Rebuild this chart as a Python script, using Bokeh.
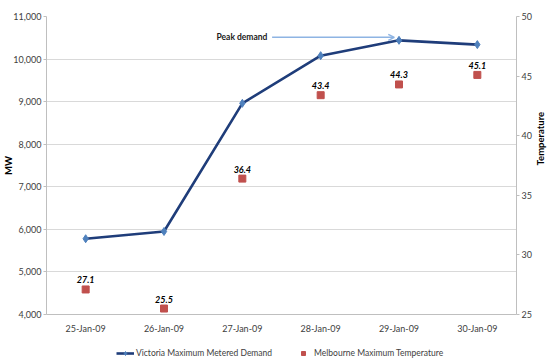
import math
from bokeh.plotting import figure
from bokeh.layouts import column
from bokeh.models import (ColumnDataSource, Range1d, FactorRange, LinearAxis, Legend, LegendItem,
                          NumeralTickFormatter, FixedTicker, Label, Arrow, OpenHead)
from bokeh.core.properties import value
from bokeh.embed import file_html
from bokeh.resources import INLINE

dates = ["25-Jan-09", "26-Jan-09", "27-Jan-09", "28-Jan-09", "29-Jan-09", "30-Jan-09"]
demand_mw = [5780, 5950, 8960, 10080, 10440, 10340]
temperature = [27.1, 25.5, 36.4, 43.4, 44.3, 45.1]
mw_ticks = [4000, 5000, 6000, 7000, 8000, 9000, 10000, 11000]
temp_ticks = [25, 30, 35, 40, 45, 50]
series_names = ["Victoria Maximum Metered Demand", "Melbourne Maximum Temperature"]

FONT = "Lato"
TICK_COLOR = "#404040"
AX_COLOR = "#BFBFBF"
LINE_COLOR = "#1F3D7A"
DIA_COLOR = "#4F81BD"
SQ_COLOR = "#C0504D"

src = ColumnDataSource(dict(
    date=dates, mw=demand_mw, temp=temperature,
    tlabel=["%.1f" % t for t in temperature],
))

p = figure(x_range=FactorRange(*dates), y_range=Range1d(4000, 11000),
           frame_width=470, frame_height=298, output_backend="svg", toolbar_location=None,
           min_border_left=44, min_border_right=34, min_border_top=16, min_border_bottom=28)
p.extra_y_ranges = {"temp": Range1d(25, 50)}
p.background_fill_color = "white"
p.border_fill_color = "white"
p.outline_line_color = None

# axes
p.yaxis.ticker = FixedTicker(ticks=mw_ticks)
p.yaxis.formatter = NumeralTickFormatter(format="0,0")
right = LinearAxis(y_range_name="temp", ticker=FixedTicker(ticks=temp_ticks))
p.add_layout(right, "right")

for ax in [p.xaxis[0], p.yaxis[0], right]:
    ax.axis_line_color = AX_COLOR
    ax.major_tick_line_color = AX_COLOR
    ax.minor_tick_line_color = None
    ax.major_tick_in = 0
    ax.major_tick_out = 3
    ax.major_label_text_font = FONT
    ax.major_label_text_font_size = "9px"
    ax.major_label_text_color = TICK_COLOR
    ax.major_label_standoff = 3
    ax.axis_label_text_font = FONT
    ax.axis_label_text_font_size = "9.5px"
    ax.axis_label_text_font_style = "bold"
    ax.axis_label_text_color = "black"
    ax.axis_label_standoff = 1
p.xaxis.major_tick_line_color = None
p.xaxis.major_label_standoff = 5

p.yaxis.axis_label = "MW"
p.yaxis.axis_label_standoff = -4
p.yaxis.major_label_standoff = 2
right.axis_label = "Temperature"
right.axis_label_standoff = 6
if "axis_label_orientation" in right.properties():
    right.axis_label_orientation = math.pi / 2

p.xgrid.grid_line_color = None
p.ygrid.grid_line_color = "#D9D9D9"
p.ygrid.grid_line_width = 1.2
p.ygrid.ticker = FixedTicker(ticks=mw_ticks)

# series
p.line("date", "mw", source=src, line_color=LINE_COLOR, line_width=2.6)
p.scatter("date", "mw", source=src, marker="diamond", size=8,
          fill_color=DIA_COLOR, line_color=DIA_COLOR)
p.scatter("date", "temp", source=src, y_range_name="temp", marker="square", size=7,
          fill_color=SQ_COLOR, line_color=SQ_COLOR)
p.text("date", "temp", text="tlabel", source=src, y_range_name="temp",
       text_font=value(FONT), text_font_size="9px", text_font_style="bold italic",
       text_color="black", text_align="center", text_baseline="bottom", y_offset=-6)

# annotation
peak_idx = demand_mw.index(max(demand_mw))
p.add_layout(Arrow(x_start=2.88, y_start=10510, x_end=peak_idx + 0.44, y_end=10510,
                   line_color="#8EB4E3", line_width=1.5,
                   end=OpenHead(size=6, line_color="#8EB4E3", line_width=1.5)))
p.add_layout(Label(x=2.82, y=10510, text="Peak demand", text_font=FONT,
                   text_font_size="8.5px", text_font_style="bold", text_align="right",
                   text_baseline="middle", text_color="#1a1a1a"))

# legend strip below the chart (proxy renderers sit outside the visible range)
leg = figure(width=548, height=18, x_range=Range1d(0, 1), y_range=Range1d(0, 1),
             x_axis_type=None, y_axis_type=None, output_backend="svg", toolbar_location=None,
             min_border=0)
leg.outline_line_color = None
leg.xgrid.grid_line_color = None
leg.ygrid.grid_line_color = None
proxy = ColumnDataSource(dict(x=[5, 6], y=[5, 6]))
lr = leg.line("x", "y", source=proxy, line_color=LINE_COLOR, line_width=2.6)
dr = leg.scatter("x", "y", source=proxy, marker="diamond", size=8,
                 fill_color=DIA_COLOR, line_color=DIA_COLOR)
sr = leg.scatter("x", "y", source=proxy, marker="square", size=7,
                 fill_color=SQ_COLOR, line_color=SQ_COLOR)
legend = Legend(items=[LegendItem(label=series_names[0], renderers=[lr, dr]),
                       LegendItem(label=series_names[1], renderers=[sr])],
                orientation="horizontal", location=(70, 2),
                label_text_font=FONT, label_text_font_size="8.5px", label_text_color=TICK_COLOR,
                border_line_color=None, background_fill_alpha=0,
                glyph_width=18, glyph_height=10, spacing=22, padding=2, margin=0, label_standoff=2)
leg.add_layout(legend)

layout = column(p, leg, spacing=0)
open("out.html", "w").write(file_html(layout, INLINE))
